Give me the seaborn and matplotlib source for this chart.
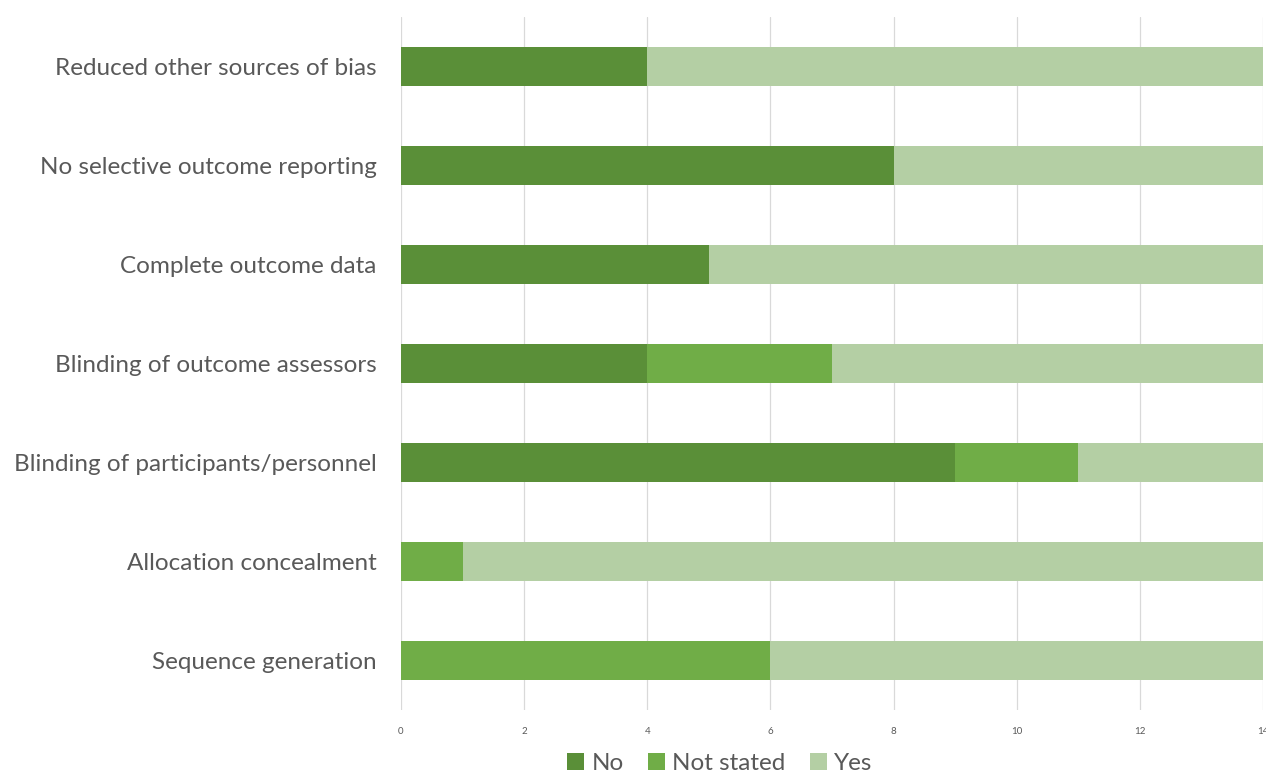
import matplotlib
matplotlib.use("Agg")
import matplotlib.pyplot as plt
import seaborn as sns
import pandas as pd
from matplotlib.patches import Patch

categories = [
    "Reduced other sources of bias",
    "No selective outcome reporting",
    "Complete outcome data",
    "Blinding of outcome assessors",
    "Blinding of participants/personnel",
    "Allocation concealment",
    "Sequence generation",
]
no_vals = [4, 8, 5, 4, 9, 0, 0]
not_stated_vals = [0, 0, 0, 3, 2, 1, 6]
yes_vals = [10, 6, 9, 7, 3, 13, 8]
series_names = ["No", "Not stated", "Yes"]
colors = ["#5a8f38", "#70ad47", "#b4cfa4"]
xticks = [0, 2, 4, 6, 8, 10, 12, 14]

df = pd.DataFrame({
    "category": categories,
    "No": no_vals,
    "Not stated": not_stated_vals,
    "Yes": yes_vals,
})
df["c_no"] = df["No"]
df["c_ns"] = df["No"] + df["Not stated"]
df["c_yes"] = df["c_ns"] + df["Yes"]

sns.set_theme(style="white")
plt.rcParams["font.family"] = ["Lato", "DejaVu Sans"]

fig = plt.figure(figsize=(12.66, 7.73), dpi=100)
ax = fig.add_axes([0.3167, 1 - 710 / 773, 0.6809, (710 - 17) / 773])

for col, color in zip(["c_yes", "c_ns", "c_no"], colors[::-1]):
    sns.barplot(data=df, x=col, y="category", orient="h", color=color,
                width=0.4, ax=ax, saturation=1, order=categories,
                linewidth=0, edgecolor="none")

ax.set_xlim(0, 14)
ax.set_ylim(6.5, -0.5)
ax.set_xticks(xticks)
ax.set_xticklabels([str(t) for t in xticks])
ax.xaxis.grid(True, color="#d9d9d9", linewidth=0.9)
ax.set_axisbelow(True)
for s in ax.spines.values():
    s.set_visible(False)
ax.set_xlabel("")
ax.set_ylabel("")
ax.tick_params(axis="x", labelsize=7, colors="#595959", length=0, pad=12)
ax.tick_params(axis="y", labelsize=17.5, colors="#595959", length=0, pad=17.5)

handles = [Patch(facecolor=c, edgecolor="none") for c in colors]
fig.legend(handles, series_names, loc="lower center", ncol=3,
           bbox_to_anchor=(0.5685, -0.029), frameon=False, fontsize=17.5,
           labelcolor="#595959", handlelength=0.7, handleheight=0.7,
           handletextpad=0.3, columnspacing=1.0)

fig.savefig("out.png", dpi=100)
